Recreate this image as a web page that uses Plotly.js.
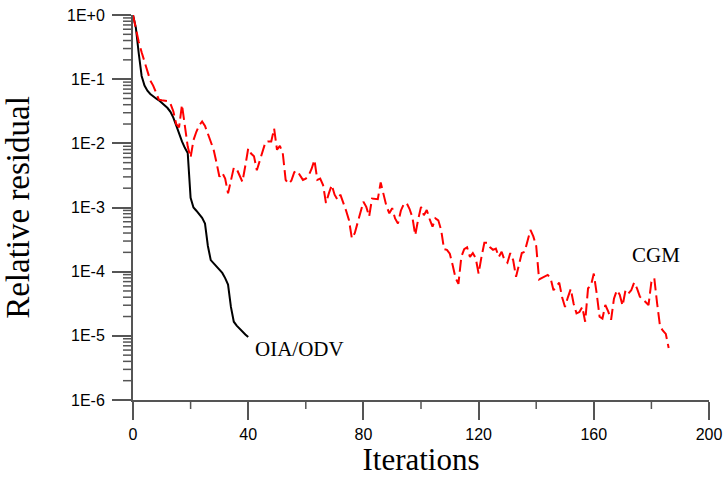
<!DOCTYPE html>
<html>
<head>
<meta charset="utf-8">
<script src="https://cdn.plot.ly/plotly-3.0.1.min.js"></script>
<style>html,body{margin:0;padding:0;background:#fff;}#chart{width:727px;height:477px;}</style>
</head>
<body>
<div id="chart"></div>
<script>
// Relative residual stored as log10 exponents (one per iteration)
var oiaLog10 = [0, -0.2, -0.6, -0.95, -1.1, -1.18, -1.23, -1.27, -1.3, -1.33,
  -1.37, -1.41, -1.45, -1.51, -1.6, -1.72, -1.85, -1.97, -2.07, -2.15,
  -2.85, -3.0, -3.05, -3.1, -3.16, -3.25, -3.6, -3.82, -3.87, -3.91,
  -3.96, -4.02, -4.1, -4.2, -4.55, -4.78, -4.84, -4.89, -4.94, -4.98, -5.02];

var cgmLog10 = [0, -0.22, -0.42, -0.58, -0.73, -0.88, -1.02, -1.1, -1.2, -1.32,
  -1.33, -1.33, -1.34, -1.38, -1.5, -1.7, -1.75, -1.4, -1.7, -2.05,
  -2.22, -1.95, -1.82, -1.72, -1.66, -1.73, -1.85, -1.98, -2.1, -2.3,
  -2.52, -2.46, -2.55, -2.78, -2.58, -2.38, -2.4, -2.5, -2.6, -2.35,
  -2.08, -2.16, -2.2, -2.42, -2.26, -2.1, -1.98, -1.97, -1.97, -1.77,
  -2.1, -2.04, -2.15, -2.57, -2.63, -2.58, -2.45, -2.43, -2.5, -2.57,
  -2.55, -2.5, -2.4, -2.26, -2.57, -2.55, -2.65, -2.93, -2.78, -2.65,
  -2.8, -2.88, -2.8, -2.92, -3.05, -3.2, -3.48, -3.4, -3.25, -3.1,
  -2.91, -2.99, -3.14, -2.86, -2.86, -2.87, -2.61, -2.8, -2.98, -3.09,
  -3.01, -3.17, -3.25, -3.05, -2.95, -2.93, -3.02, -3.15, -3.43, -3.19,
  -2.99, -3.12, -3.04, -3.18, -3.3, -3.17, -3.2, -3.35, -3.65, -3.66,
  -3.72, -3.9, -4.1, -4.19, -3.77, -3.65, -3.62, -3.77, -3.71, -3.79,
  -4.03, -3.77, -3.55, -3.55, -3.62, -3.66, -3.64, -3.77, -3.69, -3.82,
  -3.86, -3.71, -3.82, -4.08, -3.9, -3.71, -3.69, -3.51, -3.35, -3.45,
  -3.6, -4.12, -4.1, -4.07, -4.05, -4.1, -4.29, -4.23, -4.17, -4.4,
  -4.55, -4.4, -4.27, -4.5, -4.65, -4.63, -4.55, -4.78, -4.26, -4.22,
  -4.03, -4.34, -4.7, -4.73, -4.52, -4.62, -4.75, -4.42, -4.29, -4.36,
  -4.53, -4.29, -4.34, -4.29, -4.17, -4.26, -4.39, -4.43, -4.48, -4.52,
  -4.16, -4.1, -4.5, -4.85, -4.92, -4.97, -5.19];

var yTickVals = [1, 1e-1, 1e-2, 1e-3, 1e-4, 1e-5, 1e-6];
var yTickText = ['1E+0', '1E-1', '1E-2', '1E-3', '1E-4', '1E-5', '1E-6'];
var xTickVals = [0, 40, 80, 120, 160, 200];
var xMinorTickVals = [20, 60, 100, 140, 180];
var seriesNames = ['OIA/ODV', 'CGM'];

function iters(arr) { return arr.map(function (_, i) { return i; }); }
function toResidual(arr) { return arr.map(function (e) { return Math.pow(10, e); }); }

// minor log ticks 2..9 within each decade
var yMinorTickVals = [];
for (var p = -6; p < 0; p++) {
  for (var k = 2; k <= 9; k++) { yMinorTickVals.push(k * Math.pow(10, p)); }
}

var W = 727, H = 477;
var M = { l: 133, r: 18, t: 15, b: 77 };
var plotW = W - M.l - M.r, plotH = H - M.t - M.b;
var axisColor = '#555555';
var serif = 'Liberation Serif, Times New Roman, serif';
var sans = 'Liberation Sans, Arial, sans-serif';

// minor tick marks as short line shapes anchored on the axes' own scales
var minorShapes = [];
xMinorTickVals.forEach(function (v) {
  minorShapes.push({ type: 'line', xref: 'x', yref: 'paper', x0: v, x1: v, y0: 0, y1: -9 / plotH,
    line: { color: axisColor, width: 1.5 } });
});
yMinorTickVals.forEach(function (v) {
  minorShapes.push({ type: 'line', xref: 'paper', yref: 'y', x0: -10 / plotW, x1: 0, y0: v, y1: v,
    line: { color: axisColor, width: 1.5 } });
});

var traces = [
  { x: iters(oiaLog10), y: toResidual(oiaLog10), type: 'scatter', mode: 'lines',
    name: seriesNames[0], line: { color: '#000000', width: 2 } },
  { x: iters(cgmLog10), y: toResidual(cgmLog10), type: 'scatter', mode: 'lines',
    name: seriesNames[1], line: { color: '#ff0000', width: 2, dash: '12px,5px' } }
];

var layout = {
  width: W, height: H,
  margin: M,
  showlegend: false,
  font: { family: sans, color: '#000000', size: 16 },
  xaxis: {
    range: [0, 200], tickmode: 'array', tickvals: xTickVals,
    ticks: 'outside', ticklen: 18, tickwidth: 1.5, tickcolor: axisColor,
    ticklabelstandoff: 1,
    showline: true, linecolor: axisColor, linewidth: 2, mirror: false,
    showgrid: false, zeroline: false,
    tickfont: { family: sans, size: 16, color: '#000' },
    title: { text: 'Iterations', font: { family: serif, size: 31, color: '#000' }, standoff: 7 }
  },
  yaxis: {
    type: 'log', range: [-6, 0], tickmode: 'array', tickvals: yTickVals, ticktext: yTickText,
    ticks: 'outside', ticklen: 19, tickwidth: 1.5, tickcolor: axisColor,
    ticklabelstandoff: 4,
    showline: true, linecolor: axisColor, linewidth: 2, mirror: false,
    showgrid: false, zeroline: false,
    tickfont: { family: sans, size: 16, color: '#000' },
    title: { text: 'Relative residual', font: { family: serif, size: 33, color: '#000' }, standoff: 28 }
  },
  shapes: minorShapes,
  annotations: [
    { x: 41.5, y: -5.2, xref: 'x', yref: 'y', text: seriesNames[0], showarrow: false,
      xanchor: 'left', yanchor: 'middle', font: { family: serif, size: 21, color: '#000' } },
    { x: 172.5, y: -3.74, xref: 'x', yref: 'y', text: seriesNames[1], showarrow: false,
      xanchor: 'left', yanchor: 'middle', font: { family: serif, size: 21, color: '#000' } }
  ]
};

Plotly.newPlot('chart', traces, layout, { displayModeBar: false });
</script>
</body>
</html>
